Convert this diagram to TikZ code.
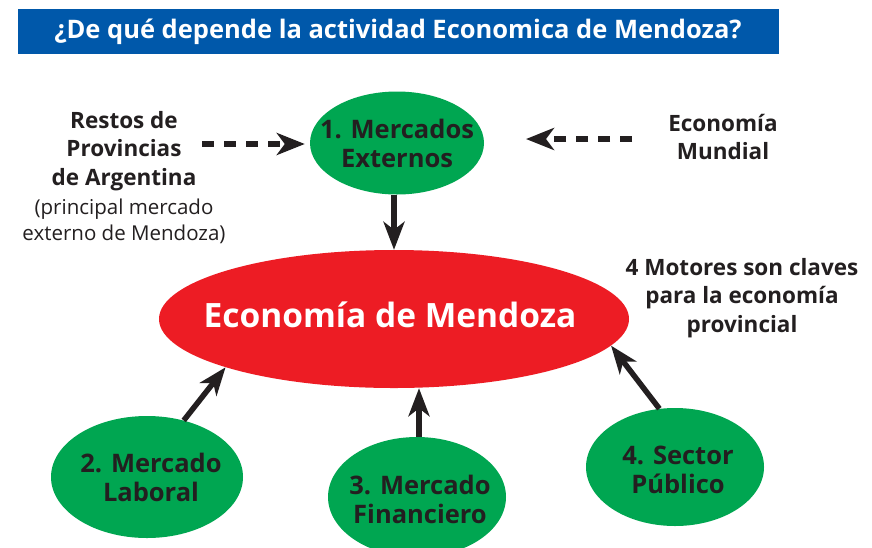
\documentclass[tikz,border=0pt]{standalone}
\usepackage{fontspec}
\setmainfont{Open Sans}
\usetikzlibrary{arrows.meta,shapes.geometric}
\definecolor{banner}{RGB}{0,88,170}
\definecolor{gr}{RGB}{0,166,81}
\definecolor{rd}{RGB}{237,28,36}
\definecolor{ink}{RGB}{35,31,32}
\tikzset{
  bub/.style={ellipse,fill=gr,inner sep=0pt},
  btxt/.style={text=ink,align=center,inner sep=0pt,font=\bfseries\fontsize{25.5}{29}\selectfont},
  lab/.style={text=ink,align=center,font=\bfseries\fontsize{22.5}{28.5}\selectfont},
  arr/.style={line width=5.5pt,draw=ink,-{Stealth[length=28pt,width=21pt,inset=8pt]}},
  darr/.style={line width=6pt,draw=ink,dash pattern=on 12pt off 10pt,-{Stealth[length=28pt,width=22pt,inset=8pt]}}
}
\begin{document}
\begin{tikzpicture}[x=1pt,y=-1pt]
\useasboundingbox (0,0) rectangle (872,547);
\clip (0,0) rectangle (872,547);
\fill[white] (0,0) rectangle (872,547);
\node[fill=banner,minimum width=761pt,minimum height=45pt,inner sep=0pt] (banner) at (398,31.5) {};
\node[text=white,inner sep=0pt,font=\bfseries\fontsize{25.5}{28}\selectfont] (title) at (398,32) {¿De qué depende la actividad Economica de Mendoza?};
\node[bub,minimum width=174pt,minimum height=103pt] (e1) at (397,143) {};
\node[btxt] (t1) at (e1) {1. Mercados\\Externos};
\node[ellipse,fill=rd,inner sep=0pt,minimum width=470pt,minimum height=138pt] (red) at (394,319) {};
\node[text=white,inner sep=0pt,font=\bfseries\fontsize{33.5}{38}\selectfont] (tred) at (390,315) {Economía de Mendoza};
\node[bub,minimum width=192pt,minimum height=122pt] (e2) at (147,477) {};
\node[btxt] (t2) at (151,477) {2. Mercado\\Laboral};
\node[bub,minimum width=178pt,minimum height=120pt] (e3) at (417,497) {};
\node[btxt] (t3) at (420,499) {3. Mercado\\Financiero};
\node[bub,minimum width=178pt,minimum height=118pt] (e4) at (675,467) {};
\node[btxt] (t4) at (678,470) {4. Sector\\Público};
\node[lab] (restos) at (124,151) {Restos de\\Provincias\\de Argentina};
\node[text=ink,align=center,font=\fontsize{20.5}{26}\selectfont] (princ) at (124,221) {(principal mercado\\externo de Mendoza)};
\node[lab] (mundial) at (723,137) {Economía\\Mundial};
\node[lab] (motores) at (742,298) {4 Motores son claves\\para la economía\\provincial};
\coordinate (ls) at (202,144);
\coordinate (rs) at (632,139);
\coordinate (rt) at (526,139);
\draw[darr] (ls) -- ([xshift=-5pt]e1.west |- ls);
\draw[darr] (rs) -- (rt);
\draw[arr] ([xshift=-3pt]e1.south) -- ([xshift=-3pt]e1.south |- red.north);
\draw[arr] (e2.57) -- (red.196);
\draw[arr] ([xshift=2pt]e3.north) -- ([xshift=2pt]e3.north |- red.south);
\draw[arr] (e4.105) -- (red.-7.6);
\end{tikzpicture}
\end{document}
